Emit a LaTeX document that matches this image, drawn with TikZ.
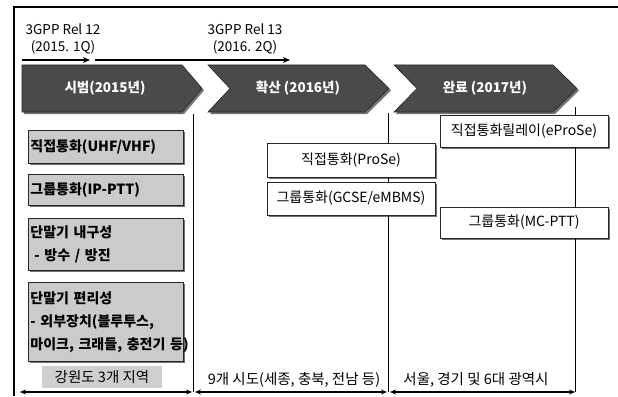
\documentclass[tikz,border=0pt]{standalone}
\usepackage{fontspec}
\setmainfont{Noto Sans CJK KR}
\usetikzlibrary{shadows,arrows.meta}
\definecolor{chevgray}{HTML}{4A4A4A}
\definecolor{boxgray}{HTML}{CBCBCB}
\definecolor{labgray}{HTML}{CFCFCF}
\begin{document}
\begin{tikzpicture}[x=1pt,y=-1pt,
  shad/.style={drop shadow={shadow xshift=2pt,shadow yshift=-2pt,fill=black,opacity=0.55}},
  chev/.style={fill=chevgray,draw=black!85,line width=0.6pt,shad},
  chevtext/.style={text=white,font=\fontsize{13.5}{15}\selectfont\bfseries},
  graybox/.style={draw=black!85,line width=0.8pt,fill=boxgray,shad,anchor=north west,
    minimum width=155pt,inner sep=2pt,text width=151pt,align=left,
    font=\fontsize{14}{23}\selectfont\bfseries},
  wbox/.style={draw=black!85,line width=0.8pt,fill=white,shad,minimum width=168pt,
    inner sep=2pt,align=center,font=\fontsize{14}{16}\selectfont},
  reltext/.style={font=\fontsize{13.5}{17}\selectfont,align=center},
  tarrow/.style={line width=1.3pt,-{Stealth[length=7pt,width=6pt]}},
  barrow/.style={line width=1.1pt,{Stealth[length=6pt,width=5pt]}-{Stealth[length=6pt,width=5pt]}},
  vline/.style={line width=0.9pt},
  frame/.style={line width=1.4pt},
  bottext/.style={font=\fontsize{14.5}{16}\selectfont}]
\useasboundingbox (0,0) rectangle (618,396);
% frame
\coordinate (ftl) at (14,7);
\coordinate (ftr) at (618,7);
\coordinate (fbl) at (14,396);
\draw[frame] (fbl) -- (ftl) -- (ftr);
% release labels
\node[reltext] (rel12) at (63,39) {3GPP Rel 12\\(2015. 1Q)};
\node[reltext] (rel13) at (245,39) {3GPP Rel 13\\(2016. 2Q)};
\coordinate (a1s) at (22,60);
\coordinate (a1e) at (90,60);
\coordinate (a2s) at (95,60);
\coordinate (a2e) at (290,60);
\draw[tarrow] (a1s) -- (a1e);
\draw[tarrow] (a2s) -- (a2e);
% chevrons
\path[chev] (22,65) -- (182,65) -- (202,88.5) -- (182,112) -- (22,112) -- cycle;
\path[chev] (208,65) -- (365,65) -- (389,88.5) -- (365,112) -- (208,112) -- (230,88.5) -- cycle;
\path[chev] (394,65) -- (553,65) -- (577,88.5) -- (553,112) -- (394,112) -- (417,88.5) -- cycle;
\node[chevtext] (c1) at (105,88.5) {시범(2015년)};
\node[chevtext] (c2) at (298,88.5) {확산 (2016년)};
\node[chevtext] (c3) at (485,88.5) {완료 (2017년)};
% vertical separators
\coordinate (v1t) at (193,114);
\coordinate (v1b) at (193,392);
\coordinate (v2t) at (388,113);
\coordinate (v2b) at (388,392);
\coordinate (v3t) at (575,107);
\coordinate (v3b) at (575,392);
\draw[vline] (v1t) -- (v1b);
\draw[vline] (v2t) -- (v2b);
\draw[vline] (v3t) -- (v3b);
% left gray boxes
\node[graybox,minimum height=33pt] (b1) at (28,130) {\mbox{직접통화(UHF/VHF)}};
\node[graybox,minimum height=31pt] (b2) at (28,174) {\mbox{그룹통화(IP-PTT)}};
\node[graybox,minimum height=52pt] (b3) at (28,218) {\mbox{단말기 내구성}\\\mbox{\hspace*{4pt}- 방수 / 방진}};
\node[graybox,minimum height=79pt] (b4) at (28,282) {\mbox{단말기 편리성}\\\mbox{- 외부장치(블루투스,}\\\mbox{마이크, 크래들, 충전기 등)}};
% white boxes
\node[wbox,minimum height=34pt] (w1) at (351,160) {직접통화(ProSe)};
\node[wbox,minimum height=33pt] (w2) at (351,198.5) {그룹통화(GCSE/eMBMS)};
\node[wbox,minimum height=32pt] (w3) at (524,131) {직접통화릴레이(eProSe)};
\node[wbox,minimum height=31pt] (w4) at (524,222.5) {그룹통화(MC-PTT)};
% bottom labels
\node[bottext,fill=labgray,minimum width=120pt,minimum height=22pt,inner sep=1pt] (l1) at (102,377) {강원도 3개 지역};
\node[bottext] (l2) at (294,380) {9개 시도(세종, 충북, 전남 등)};
\node[bottext] (l3) at (476,380) {서울, 경기 및 6대 광역시};
% bottom arrows
\coordinate (d1s) at (20,392);
\coordinate (d1e) at (192,392);
\coordinate (d2s) at (195,392);
\coordinate (d2e) at (387,392);
\coordinate (d3s) at (390,392);
\coordinate (d3e) at (575,392);
\draw[barrow] (d1s) -- (d1e);
\draw[barrow] (d2s) -- (d2e);
\draw[barrow] (d3s) -- (d3e);
\end{tikzpicture}
\end{document}
